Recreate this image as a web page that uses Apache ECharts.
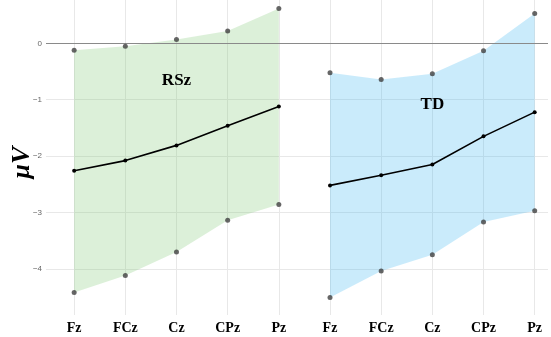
<!DOCTYPE html>
<html><head><meta charset="utf-8">
<script src="https://cdn.jsdelivr.net/npm/echarts@6/dist/echarts.min.js"></script>
<style>html,body{margin:0;padding:0;background:#fff}#c{width:551px;height:337px}</style>
</head><body><div id="c"></div>
<script>
const electrodes = ['Fz','FCz','Cz','CPz','Pz'];
const groups = ['RSz','TD'];
const rszMean  = [-2.26, -2.08, -1.81, -1.46, -1.12];
const rszUpper = [-0.12, -0.05, 0.07, 0.22, 0.62];
const rszLower = [-4.42, -4.12, -3.70, -3.14, -2.86];
const tdMean   = [-2.52, -2.34, -2.15, -1.65, -1.22];
const tdUpper  = [-0.52, -0.64, -0.54, -0.13, 0.53];
const tdLower  = [-4.51, -4.04, -3.75, -3.17, -2.97];
const yTicks = [-4, -3, -2, -1, 0];
const groupLabelPos = [[2.0, -0.66], [7.0, -1.08]];

const xLabels = electrodes.concat(electrodes);
const xPos = xLabels.map((_, i) => i);
function pts(arr, off){ return arr.map((v,i)=>[i+off, v]); }
const bandData = [
  {upper: pts(rszUpper,0), lower: pts(rszLower,0), color:'rgba(130,200,120,0.28)'},
  {upper: pts(tdUpper,5), lower: pts(tdLower,5), color:'rgba(60,180,240,0.27)'}
];
const serifFont = '"Liberation Serif","Times New Roman",serif';

function bandSeries(b){
  const all = b.upper.concat(b.lower);
  return {
    type:'custom', silent:true, z:2,
    data: all,
    renderItem: function(params, api){
      if (params.dataIndex !== 0) return null;
      const up = b.upper.map(p=>api.coord(p));
      const lo = b.lower.map(p=>api.coord(p)).reverse();
      return {type:'polygon', shape:{points: up.concat(lo)}, style:{fill:b.color}};
    }
  };
}

const option = {
  animation:false,
  grid:{left:46, right:3, top:0, bottom:22, outerBoundsMode:'none', containLabel:false},
  xAxis:{
    type:'value', min:-0.55, max:9.26,
    axisLine:{show:false}, axisTick:{show:false},
    splitLine:{show:false},
    axisLabel:{
      customValues: xPos,
      formatter: v => (Number.isInteger(v) && v>=0 && v<xLabels.length) ? xLabels[v] : '',
      fontFamily: serifFont, fontWeight:'bold', fontSize:14, color:'#000', margin:6
    }
  },
  yAxis:{
    type:'value', min:-4.82, max:0.77,
    axisLine:{show:false}, axisTick:{show:false},
    splitLine:{show:false},
    name:'μV', nameLocation:'middle', nameGap:11, nameRotate:90, nameMoveOverlap:false,
    nameTextStyle:{fontFamily:serifFont, fontWeight:'bold', fontStyle:'italic', fontSize:26, color:'#000', padding:[0,10,0,0]},
    axisLabel:{
      customValues: yTicks,
      formatter: v => Number.isInteger(v) ? (v<0 ? '\u2212'+Math.abs(v) : String(v)) : '',
      fontSize:8, color:'#666', margin:4
    }
  },
  series:[
    {
      type:'line', data:[], silent:true, z:0,
      markLine:{
        silent:true, z:0, symbol:'none', label:{show:false},
        lineStyle:{color:'#e8e8e8', width:1, type:'solid'},
        data: xPos.map(x=>({xAxis:x})).concat(yTicks.filter(t=>t!==0).map(t=>({yAxis:t})))
      }
    },
    bandSeries(bandData[0]),
    bandSeries(bandData[1]),
    {
      type:'line', data:[], silent:true, z:3,
      markLine:{silent:true, z:3, symbol:'none', label:{show:false},
        lineStyle:{color:'#8a8a8a', width:1.2, type:'solid'}, data:[{yAxis:0}]}
    },
    {type:'scatter', z:4, symbolSize:5, itemStyle:{color:'#404040'},
      data: pts(rszUpper,0).concat(pts(rszLower,0), pts(tdUpper,5), pts(tdLower,5))},
    {type:'line', z:5, data:pts(rszMean,0), symbol:'circle', symbolSize:4,
      lineStyle:{color:'#000', width:1.6}, itemStyle:{color:'#000'}},
    {type:'line', z:5, data:pts(tdMean,5), symbol:'circle', symbolSize:4,
      lineStyle:{color:'#000', width:1.6}, itemStyle:{color:'#000'}},
    {type:'scatter', z:6, symbol:'circle', symbolSize:0, silent:true,
      itemStyle:{color:'rgba(0,0,0,0)'},
      data: groupLabelPos.map((p,i)=>({value:p, name:groups[i]})),
      label:{show:true, position:'inside', formatter:'{b}', fontFamily:serifFont,
        fontWeight:'bold', fontSize:17, color:'#000', textBorderWidth:0, opacity:1}}
  ]
};
const chart = echarts.init(document.getElementById('c'), null, {renderer:'canvas'});
chart.setOption(option);
</script></body></html>
